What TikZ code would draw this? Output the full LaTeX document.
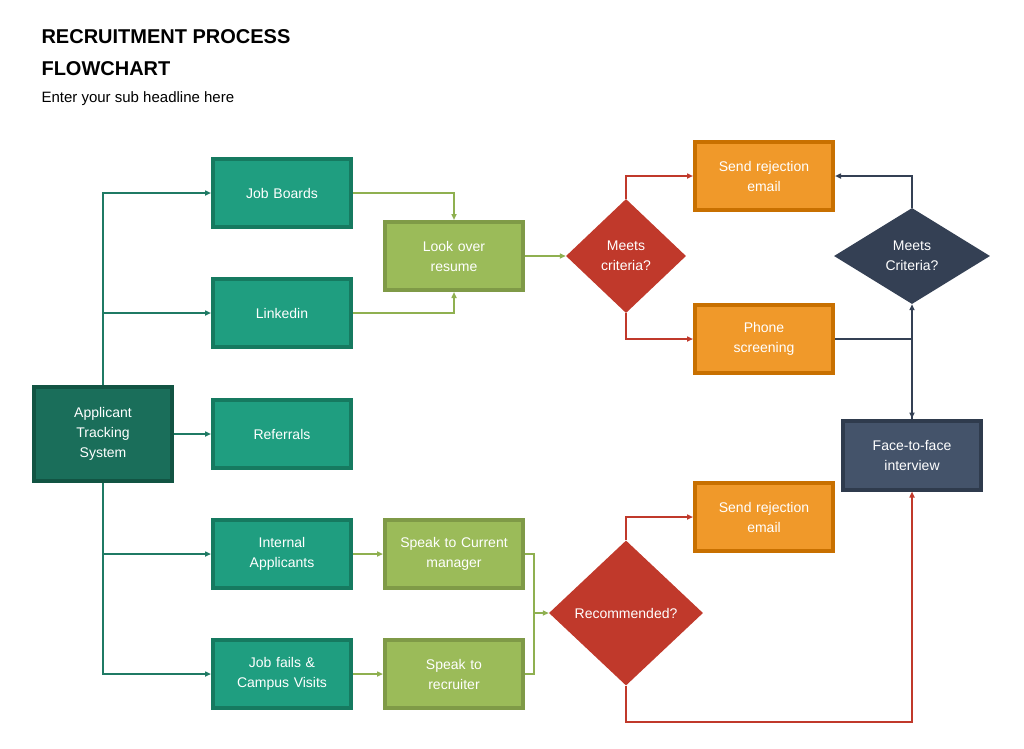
\documentclass[tikz,border=0pt]{standalone}
\usepackage{fontspec}
\setmainfont{Liberation Sans}
\usetikzlibrary{shapes.geometric,arrows.meta}
\definecolor{tealD}{HTML}{1A6E5A}\definecolor{tealDb}{HTML}{125443}
\definecolor{teal}{HTML}{1F9E80}\definecolor{tealb}{HTML}{167A60}
\definecolor{tline}{HTML}{1F7A64}
\definecolor{grn}{HTML}{9BBB59}\definecolor{grnb}{HTML}{7F9A47}\definecolor{gline}{HTML}{8FB050}
\definecolor{red}{HTML}{C0392B}
\definecolor{org}{HTML}{F0992A}\definecolor{orgb}{HTML}{C87000}
\definecolor{navy}{HTML}{344054}\definecolor{slate}{HTML}{44536A}\definecolor{slateb}{HTML}{2F3B4D}
\tikzset{
 box/.style={draw, line width=4pt, minimum width=138pt, minimum height=68pt, inner sep=2pt, align=center, text=white, font=\fontsize{14}{20}\selectfont, text width=130pt},
 tb/.style={box, fill=teal, draw=tealb},
 gb/.style={box, fill=grn, draw=grnb},
 ob/.style={box, fill=org, draw=orgb},
 dia/.style={diamond, inner sep=0pt, align=center, text=white, font=\fontsize{14}{20}\selectfont},
 ar/.style={-{Triangle[length=6pt,width=5pt]}, line width=1.5pt},
}
\begin{document}
\begin{tikzpicture}[x=1pt,y=-1pt]
\useasboundingbox (0,0) rectangle (1024,748);
\node[anchor=base west,font=\bfseries\fontsize{20}{24}\selectfont] (t1) at (38,43) {RECRUITMENT PROCESS};
\node[anchor=base west,font=\bfseries\fontsize{20}{24}\selectfont] (t2) at (38,75) {FLOWCHART};
\node[anchor=base west,font=\fontsize{15}{18}\selectfont] (t3) at (38,102) {Enter your sub headline here};

\node[box, fill=tealD, draw=tealDb, minimum height=94pt] (ats) at (103,434) {Applicant\\Tracking\\System};
\node[tb] (jb) at (282,193) {Job Boards};
\node[tb] (li) at (282,313) {Linkedin};
\node[tb] (rf) at (282,434) {Referrals};
\node[tb] (ia) at (282,554) {Internal\\Applicants};
\node[tb] (jf) at (282,674) {Job fails \&\\Campus Visits};
\node[gb] (lo) at (454,256) {Look over\\resume};
\node[gb] (sm) at (454,554) {Speak to Current\\manager};
\node[gb] (sr) at (454,674) {Speak to\\recruiter};
\node[dia, fill=red, minimum width=120pt, minimum height=114pt] (mc) at (626,256) {Meets\\criteria?};
\node[dia, fill=red, minimum width=154pt, minimum height=145pt] (rc) at (626,613) {Recommended?};
\node[dia, fill=navy, minimum width=156pt, minimum height=96pt] (mc2) at (912,256) {Meets\\Criteria?};
\node[ob] (rj1) at (764,176) {Send rejection\\email};
\node[ob] (ps) at (764,339) {Phone\\screening};
\node[ob] (rj2) at (764,517) {Send rejection\\email};
\node[box, fill=slate, draw=slateb, minimum height=69pt] (ff) at (912,455) {Face-to-face\\interview};

\begin{scope}[tline, line width=1.5pt]
\draw[ar] (ats.north) |- (jb.west);
\draw[ar] (ats.north |- li.west) -- (li.west);
\draw[ar] (ats.east) -- (rf.west);
\draw[ar] (ats.south) |- (jf.west);
\draw[ar] (ats.south |- ia.west) -- (ia.west);
\end{scope}
\begin{scope}[gline, line width=1.5pt]
\draw[ar] (jb.east) -| (lo.north);
\draw[ar] (li.east) -| (lo.south);
\draw[ar] (lo.east) -- (mc.west);
\draw[ar] (ia.east) -- (sm.west);
\draw[ar] (jf.east) -- (sr.west);
\coordinate (j1) at (534,613);
\draw (sm.east) -| (j1);
\draw (sr.east) -| (j1);
\draw[ar] (j1) -- (rc.west);
\end{scope}
\begin{scope}[red, line width=1.5pt]
\draw[ar] (mc.north) |- (rj1.west);
\draw[ar] (mc.south) |- (ps.west);
\draw[ar] (rc.north) |- (rj2.west);
\coordinate (b1) at (626,722);
\draw[ar] (rc.south) -- (b1) -| (ff.south);
\end{scope}
\begin{scope}[navy, line width=1.5pt]
\draw[ar] (ps.east) -| (ff.north);
\draw[ar] (ff.north) -- (mc2.south);
\draw[ar] (mc2.north) |- (rj1.east);
\end{scope}
\end{tikzpicture}
\end{document}
